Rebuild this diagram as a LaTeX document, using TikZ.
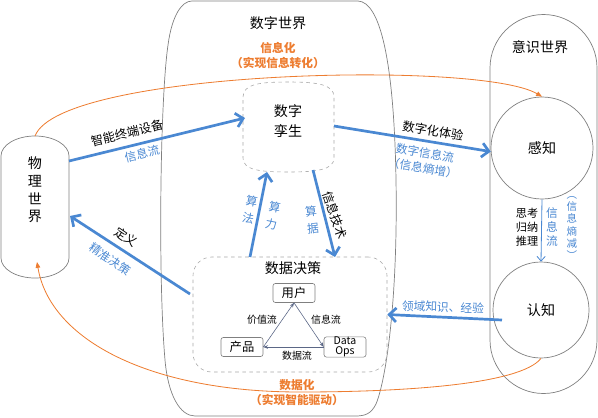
\documentclass[tikz,border=0pt]{standalone}
\usepackage{fontspec}
\setmainfont{Noto Sans CJK SC}
\usepackage{graphicx}
\usetikzlibrary{positioning,calc}
\usetikzlibrary{arrows.meta}

\definecolor{flowblue}{HTML}{4A88D2}
\definecolor{lineorange}{HTML}{ED7D31}
\definecolor{shapegray}{HTML}{808080}
\definecolor{dashgray}{HTML}{A8A8A8}
\definecolor{smallarrow}{HTML}{5B6786}

\tikzset{
   world/.style={draw=shapegray, line width=0.6pt},
   dashbox/.style={draw=dashgray, dashed, line width=0.5pt},
   bigflow/.style={draw=flowblue, line width=2.3pt,
      -{Straight Barb[length=6pt,width=12pt]}},
   thinflow/.style={draw=flowblue, line width=0.7pt,
      -{Straight Barb[length=4pt,width=7pt]}},
   orangeflow/.style={draw=lineorange, line width=0.7pt,
      -{Triangle[length=5pt,width=4pt]}},
   valueflow/.style={draw=smallarrow, line width=0.5pt,
      -{Stealth[length=4pt,width=3pt]}},
   inbox/.style={draw=shapegray, rounded corners=2pt, line width=0.5pt,
      minimum width=1.26cm, minimum height=0.57cm, inner sep=0pt},
   title/.style={font=\fontsize{12}{15}\selectfont},
   lbl/.style={font=\fontsize{10.5}{13}\selectfont, inner sep=1pt},
   bluelbl/.style={text=flowblue, font=\fontsize{10}{13}\selectfont, inner sep=1pt},
   smalllbl/.style={font=\fontsize{8.5}{10}\selectfont, inner sep=1pt},
   orangelbl/.style={text=lineorange, font=\bfseries\fontsize{10}{12.8}\selectfont,
      align=center, inner sep=1pt},
}

\begin{document}
\begin{tikzpicture}[x=0.03cm, y=-0.03cm]
   \useasboundingbox (0,0) rectangle (598,417);

   % digital world
   \draw[world] (192,1) -- (358,1) .. controls (380,2) and (394,60) .. (396,180)
      .. controls (398,300) and (386,380) .. (376,404)
      .. controls (371,414) and (365,416) .. (355,416) -- (195,416)
      .. controls (180,416) and (168,395) .. (165,360)
      .. controls (158,280) and (160,100) .. (168,45)
      .. controls (172,15) and (182,1) .. (192,1) -- cycle;
   \node[title] (dw) at (278,23) {数字世界};

   % physical world
   \draw[world] (1,156) .. controls (1,145) and (16.2,136) .. (35,136)
      .. controls (53.8,136) and (69,145) .. (69,156) -- (69,258)
      .. controls (69,269) and (53.8,278) .. (35,278)
      .. controls (16.2,278) and (1,269) .. (1,258) -- cycle;
   \node[title, align=center, font=\fontsize{12}{15}\selectfont] (pw) at (35,190) {物\\理\\世\\界};

   % consciousness world
   \draw[world] (490,68) .. controls (490,38.5) and (514,14.5) .. (543.5,14.5)
      .. controls (573,14.5) and (597,38.5) .. (597,68) -- (597,340)
      .. controls (597,369.5) and (573,393.5) .. (543.5,393.5)
      .. controls (514,393.5) and (490,369.5) .. (490,340) -- cycle;
   \node[title] (cw) at (540,47) {意识世界};
   \node[world, circle, minimum size=3.06cm, title] (sense) at (542,148) {感知};
   \node[world, circle, minimum size=2.88cm, title] (cog) at (541,310) {认知};

   % digital twin
   \draw[dashbox] (243,97) .. controls (243,84) and (260,82) .. (288,82)
      .. controls (316,82) and (334,84) .. (334,97) -- (334,158)
      .. controls (334,170) and (316,172) .. (288,172)
      .. controls (260,172) and (243,170) .. (243,158) -- cycle;
   \node[title, align=center, font=\fontsize{12}{17}\selectfont] (twin) at (288,121) {数字\\孪生};

   % data decision
   \node[dashbox, rounded corners=16pt, minimum width=5.82cm, minimum height=3.45cm]
      (dec) at (290,314.5) {};
   \node[title] (dectitle) at (293,268) {数据决策};
   \node[inbox, title, font=\fontsize{10.5}{12}\selectfont] (user) at (294,293) {用户};
   \node[inbox, font=\fontsize{10.5}{12}\selectfont] (prod) at (242,347) {产品};
   \node[inbox, align=center, font=\fontsize{9}{8.5}\selectfont, minimum height=0.6cm]
      (ops) at (345,347) {Data\\Ops};

   \draw[valueflow] (prod.east) -- (user.south);
   \draw[valueflow] (user.south) -- (ops.west);
   \draw[valueflow] (ops.west) -- (prod.east);
   \node[smalllbl] (vflow) at (262,320) {价值流};
   \node[smalllbl] (iflow) at (326,320) {信息流};
   \node[smalllbl] (dflow) at (297,356) {数据流};

   % connector ends
   \coordinate (phys-out) at (69,161);
   \coordinate (phys-in) at (70,216);
   \coordinate (phys-top) at (35,136);
   \coordinate (phys-bot) at (37,262);
   \coordinate (twin-left) at (245,118);
   \coordinate (twin-right) at (334,126);
   \coordinate (twin-low1) at (267,172);
   \coordinate (twin-low2) at (313,170);
   \coordinate (dec-up1) at (250,257);
   \coordinate (dec-up2) at (335,257);
   \coordinate (dec-out) at (190,294);
   \coordinate (cog-in) at (502,320);

   % orange loops
   \draw[orangeflow] (phys-top) .. controls (60,70) and (480,60) .. (sense.north);
   \draw[orangeflow] (cog.south) .. controls (520,385) and (400,392) .. (300,392)
      .. controls (150,392) and (50,340) .. (phys-bot);
   \node[orangelbl] (infoize) at (278,56) {信息化\\（实现信息转化）};
   \node[orangelbl] (dataize) at (297,393) {数据化\\（实现智能驱动）};

   % blue flows
   \draw[bigflow] (phys-out) -- (twin-left);
   \node[lbl, rotate=13.7] (ldev) at (127,133) {智能终端设备};
   \node[bluelbl, rotate=13.7] (lflow1) at (142,154) {信息流};

   \draw[bigflow] (twin-right) -- (sense.184);
   \node[lbl, rotate=-9.5] (lexp) at (433,131) {数字化体验};
   \node[bluelbl, rotate=-9.5] (lflow2) at (425,153) {数字信息流};
   \node[bluelbl, rotate=-9.5] (lentup) at (423,168) {（信息熵增）};

   \draw[bigflow] (dec-up1) -- (twin-low1);
   \node[bluelbl, rotate=-11, align=center, font=\fontsize{10}{15}\selectfont] (lalg) at (250,210) {算\\法};
   \node[bluelbl, rotate=-11, align=center, font=\fontsize{10}{15}\selectfont] (lpow) at (273,216) {算\\力};

   \draw[bigflow] (twin-low2) -- (dec-up2);
   \node[bluelbl, rotate=6, align=center, font=\fontsize{10}{15}\selectfont] (lsuan) at (312,220) {算\\据};
   \node[lbl, rotate=-71] (ltech) at (335,215) {信息技术};

   \draw[bigflow] (dec-out) -- (phys-in);
   \node[lbl, rotate=-34] (ldef) at (126,237) {定义};
   \node[bluelbl, rotate=-34] (lprec) at (110,259) {精准决策};

   \draw[bigflow] (cog-in) -- (dec.east);
   \node[bluelbl, rotate=-2] (lknow) at (443,307) {领域知识、经验};

   \draw[thinflow] (sense.south) -- (cog.north);
   \node[lbl, align=center, font=\fontsize{9.5}{12}\selectfont] (lthink) at (527,227) {思考\\归纳\\推理};
   \node[bluelbl, align=center, font=\fontsize{10}{12}\selectfont] (lflow3) at (552,227) {信\\息\\流};
   \node[bluelbl, align=center, font=\fontsize{9}{10.5}\selectfont] (lentropy) at (572,228) {︵\\信\\息\\熵\\减\\︶};
\end{tikzpicture}
\end{document}
